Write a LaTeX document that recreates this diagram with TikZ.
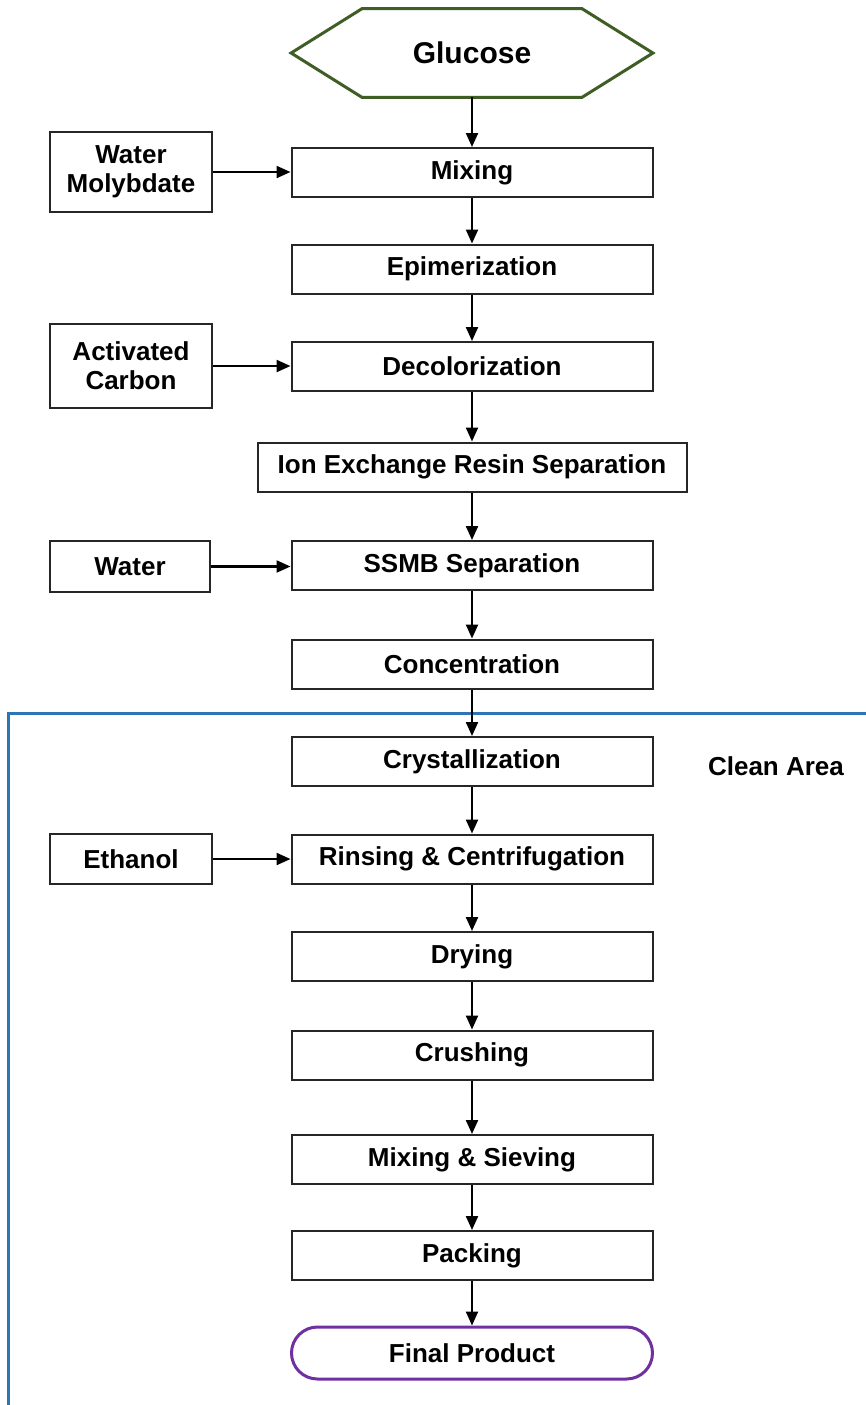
\documentclass[tikz,border=0pt]{standalone}
\usepackage{fontspec}
\setmainfont{Liberation Sans}
\usepackage{tikz}
\usetikzlibrary{arrows.meta,shapes,calc,positioning}
\definecolor{hexgreen}{RGB}{62,94,38}
\definecolor{areablue}{RGB}{46,117,182}
\definecolor{endpurple}{RGB}{112,48,160}
\tikzstyle{process}=[rectangle, draw=black!85, line width=1pt, fill=white,
                     minimum width=180.5pt, minimum height=24.5pt,
                     font=\fontsize{13}{14.5}\selectfont\bfseries]
\tikzstyle{input}  =[process, minimum width=81pt, align=center]
\tikzstyle{flow}   =[->, >={Triangle[length=7pt,width=6pt]}, line width=1.1pt]

\begin{document}
\begin{tikzpicture}[x=0.5pt, y=-0.5pt]
    \useasboundingbox (0,0) rectangle (866,1405);

    % clean area frame
    \draw[areablue, line width=1.5pt] (866,713) -- (8,713) -- (8,1405);
    \node[font=\fontsize{13}{14.5}\selectfont\bfseries] (area) at (776,766) {Clean Area};

    % start
    \node[minimum width=109.5pt, minimum height=44pt, inner sep=0pt,
          font=\fontsize{15}{17}\selectfont\bfseries] (glu) at (472,53) {Glucose};
    \draw[hexgreen, line width=1.5pt] (glu.north west) -- (glu.north east)
        -- ([xshift=35.5pt]glu.east) -- (glu.south east) -- (glu.south west)
        -- ([xshift=-35.5pt]glu.west) -- cycle;

    % main line
    \node[process] (mix) at (472,172.5) {Mixing};
    \node[process] (epi) at (472,269) {Epimerization};
    \node[process] (dec) at (472,366.5) {Decolorization};
    \node[process, minimum width=214.5pt] (ion) at (472,467) {Ion Exchange Resin Separation};
    \node[process] (ssmb) at (472,565.5) {SSMB Separation};
    \node[process] (con) at (472,664) {Concentration};
    \node[process] (cry) at (472,761.5) {Crystallization};
    \node[process] (rin) at (472,859) {Rinsing \& Centrifugation};
    \node[process] (dry) at (472,956.5) {Drying};
    \node[process] (cru) at (472,1055) {Crushing};
    \node[process] (sie) at (472,1159.5) {Mixing \& Sieving};
    \node[process] (pac) at (472,1255.5) {Packing};
    \node[process, draw=endpurple, line width=1.5pt, minimum height=26pt,
          rounded corners=13pt] (fin) at (472,1353) {Final Product};

    % inputs
    \node[input, minimum height=40pt] (wmo) at (131,172) {Water\\Molybdate};
    \node[input, minimum height=42pt] (act) at (131,366) {Activated\\Carbon};
    \node[input, minimum width=80pt, minimum height=25.5pt] (wat) at (130,566.5) {Water};
    \node[input, minimum height=25pt] (eth) at (131,859) {Ethanol};

    \foreach \a/\b in {glu/mix, mix/epi, epi/dec, dec/ion, ion/ssmb, ssmb/con,
                       con/cry, cry/rin, rin/dry, dry/cru, cru/sie, sie/pac, pac/fin}
        \draw[flow] (\a) -- (\b);

    \foreach \a/\b in {wmo/mix, act/dec, wat/ssmb, eth/rin}
        \draw[flow] (\a.east) -- (\a.east -| \b.west);
\end{tikzpicture}
\end{document}
